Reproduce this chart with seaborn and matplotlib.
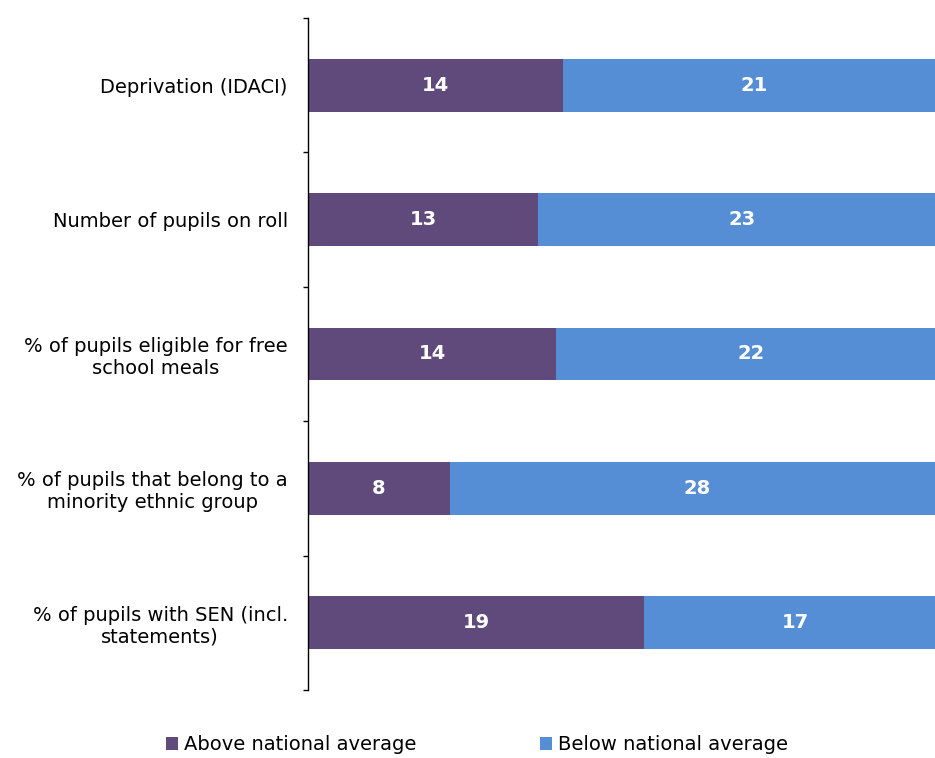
import matplotlib
matplotlib.use("Agg")
import matplotlib.pyplot as plt
import seaborn as sns
import pandas as pd
import numpy as np
from matplotlib.patches import Patch

categories = [
    "Deprivation (IDACI)",
    "Number of pupils on roll",
    "% of pupils eligible for free\nschool meals",
    "% of pupils that belong to a\nminority ethnic group",
    "% of pupils with SEN (incl.\nstatements)",
]
above = [14, 13, 14, 8, 19]
below = [21, 23, 22, 28, 17]
series_names = ["Above national average", "Below national average"]
colors = ["#604A7B", "#558ED5"]

df = pd.DataFrame({"category": categories, "above": above, "below": below})
df["total"] = df["above"] + df["below"]
df["above_share"] = df["above"] / df["total"]
df["cum_share"] = (df["above"] + df["below"]) / df["total"]

sns.set_theme(style="white")
plt.rcParams["font.family"] = ["DejaVu Sans"]

W, H = 935, 758
fig = plt.figure(figsize=(W / 100, H / 100), dpi=100)
ax = fig.add_axes([308 / W, 1 - 690 / H, (945.5 - 308) / W, (690 - 18) / H])

bw = 0.394
sns.barplot(data=df, y="category", x="cum_share", orient="h", color=colors[1],
            width=bw, saturation=1, ax=ax, linewidth=0)
sns.barplot(data=df, y="category", x="above_share", orient="h", color=colors[0],
            width=bw, saturation=1, ax=ax, linewidth=0)

# labels
for i, r in df.iterrows():
    ax.text(r["above_share"] / 2, i, str(r["above"]), color="white", ha="center",
            va="center", fontsize=14, fontweight="bold")
    ax.text(r["above_share"] + (r["cum_share"] - r["above_share"]) / 2, i, str(r["below"]),
            color="white", ha="center", va="center", fontsize=14, fontweight="bold")

n = len(categories)
ax.set_xlim(0, 1)
ax.set_ylim(n - 0.5, -0.5)
ax.set_xlabel("")
ax.set_ylabel("")
ax.set_xticks([])

ax.set_yticks(np.arange(-0.5, n, 1.0))
ax.set_yticklabels([])
ax.set_yticks(np.arange(n), minor=True)
ax.set_yticklabels(categories, minor=True, fontsize=14, color="#000000",
                   multialignment="center")
ax.tick_params(axis="y", which="major", direction="out", length=3.8, width=1.0,
               color="#000000", left=True)
ax.tick_params(axis="y", which="minor", length=0, pad=14.5, left=True)

for s in ["top", "right", "bottom"]:
    ax.spines[s].set_visible(False)
ax.spines["left"].set_color("#000000")
ax.spines["left"].set_linewidth(1.0)

handles = [Patch(facecolor=c, edgecolor="none") for c in colors]
leg = fig.legend(handles, series_names, loc="center left",
                 bbox_to_anchor=(166 / W, 1 - 745 / H),
                 ncol=2, frameon=False, fontsize=14, handlelength=0.6, handleheight=0.6,
                 handletextpad=0.3, columnspacing=6.4, borderaxespad=0, borderpad=0)
for t in leg.get_texts():
    t.set_color("#000000")

fig.savefig("out.png", dpi=100)
